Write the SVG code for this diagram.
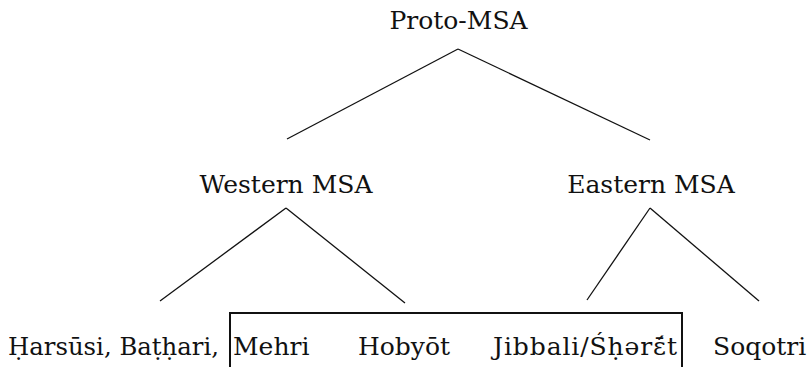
<svg xmlns="http://www.w3.org/2000/svg" width="812" height="367" viewBox="0 0 812 367">
<style>
text{font-family:"DejaVu Serif","Liberation Serif",serif;font-size:25px;fill:#111}
.e{stroke:#111;stroke-width:1.3;fill:none}
.box{stroke:#111;stroke-width:2;fill:none}
</style>
<rect width="812" height="367" fill="#fff"/>
<g id="connectors">
<line class="e" x1="458" y1="49" x2="287" y2="139"/>
<line class="e" x1="458" y1="49" x2="650" y2="140"/>
<line class="e" x1="286" y1="208" x2="160" y2="301"/>
<line class="e" x1="286" y1="208" x2="405" y2="303"/>
<line class="e" x1="650" y1="208" x2="587" y2="300"/>
<line class="e" x1="650" y1="208" x2="759" y2="301"/>
</g>
<g id="proto"><text x="458.5" y="29" text-anchor="middle">Proto-MSA</text></g>
<g id="western"><text x="286" y="193" text-anchor="middle">Western MSA</text></g>
<g id="eastern"><text x="651" y="193" text-anchor="middle">Eastern MSA</text></g>
<g id="box"><rect class="box" x="230" y="313" width="452" height="56"/></g>
<g id="harsusi"><text x="8" y="355" textLength="211" lengthAdjust="spacingAndGlyphs">Ḥarsūsi, Baṭḥari,</text></g>
<g id="mehri"><text x="233" y="355">Mehri</text></g>
<g id="hobyot"><text x="358" y="355">Hobyōt</text></g>
<g id="jibbali"><text x="493" y="355" textLength="184" lengthAdjust="spacing">Jibbali/Śḥərɛ̄́t</text></g>
<g id="soqotri"><text x="713" y="355">Soqotri</text></g>
</svg>
